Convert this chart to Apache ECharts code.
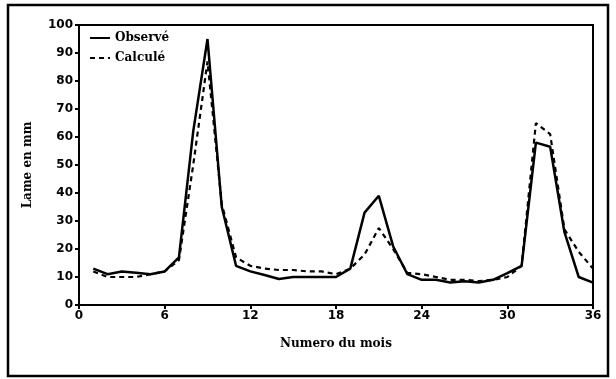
<!DOCTYPE html>
<html>
<head>
<meta charset="utf-8">
<script src="https://cdn.jsdelivr.net/npm/echarts@6/dist/echarts.min.js"></script>
<style>
  html, body { margin: 0; padding: 0; background: #fff; }
  #container { width: 616px; height: 379px; }
</style>
</head>
<body>
<div id="container"></div>
<script>
// numéro du mois
let months = [1, 2, 3, 4, 5, 6, 7, 8, 9, 10, 11, 12, 13, 14, 15, 16, 17, 18,
  19, 20, 21, 22, 23, 24, 25, 26, 27, 28, 29, 30, 31, 32, 33, 34, 35, 36]
// lame observée (mm)
let observed = [13, 11, 12, 11.5, 11, 12, 17, 62, 95, 35, 14, 12, 10.7, 9.3, 10, 10, 10, 10,
  13, 33, 39, 21, 11, 9, 9, 8, 8.5, 8, 9, 11.4, 14, 58, 56.5, 26, 10, 8]
// lame calculée (mm)
let calculated = [12, 10, 10, 10, 11, 12, 16, 50, 87, 36, 17, 14, 13, 12.5, 12.5, 12, 12, 11,
  13, 18, 27.5, 20, 11.5, 11, 10, 9, 9, 8.5, 9, 10, 14, 65, 61, 27, 19, 13]
let seriesNames = ['Observé', 'Calculé']

let serifBold = { fontFamily: 'DejaVu Serif', fontWeight: 'bold', fontSize: 12, color: '#000' }
let tickFont = { fontFamily: 'DejaVu Sans', fontWeight: 'bold', fontSize: 12, color: '#000' }

let options = {
  animation: false,
  backgroundColor: '#fff',
  grid: {
    left: 79,
    right: 23,
    top: 25,
    bottom: 74,
    show: true,
    borderColor: '#000',
    borderWidth: 2
  },
  legend: {
    orient: 'vertical',
    left: 84,
    top: 27,
    itemWidth: 20,
    itemHeight: 10,
    itemGap: 8,
    itemStyle: { opacity: 0 },
    textStyle: serifBold,
    data: seriesNames
  },
  graphic: [
    {
      type: 'rect',
      shape: { x: 8, y: 5, width: 600, height: 371 },
      style: { fill: 'none', stroke: '#000', lineWidth: 2.5 }
    }
  ],
  xAxis: {
    type: 'value',
    min: 0,
    max: 36,
    interval: 6,
    name: 'Numero du mois',
    nameLocation: 'middle',
    nameGap: 33,
    nameTextStyle: serifBold,
    axisLine: { lineStyle: { color: '#000', width: 2 } },
    axisTick: { show: true, length: 4, lineStyle: { color: '#000', width: 2 } },
    axisLabel: Object.assign({ margin: 5 }, tickFont),
    splitLine: { show: false }
  },
  yAxis: {
    type: 'value',
    min: 0,
    max: 100,
    interval: 10,
    name: 'Lame en mm',
    nameLocation: 'middle',
    nameGap: 45,
    nameTextStyle: serifBold,
    axisLine: { show: true, lineStyle: { color: '#000', width: 2 } },
    axisTick: { show: true, length: 4, lineStyle: { color: '#000', width: 2 } },
    axisLabel: Object.assign({ margin: 6 }, tickFont),
    splitLine: { show: false }
  },
  series: [
    {
      name: seriesNames[0],
      type: 'line',
      symbol: 'none',
      data: months.map((m, i) => [m, observed[i]]),
      lineStyle: { color: '#000', width: 2.5 },
      itemStyle: { color: '#000' }
    },
    {
      name: seriesNames[1],
      type: 'line',
      symbol: 'none',
      data: months.map((m, i) => [m, calculated[i]]),
      lineStyle: { color: '#000', width: 2.2, type: [5, 4] },
      itemStyle: { color: '#000' }
    }
  ]
}

let mychart = echarts.init(document.getElementById('container'))
mychart.setOption(options)
window.addEventListener('resize', () => { mychart.resize() })
</script>
</body>
</html>
